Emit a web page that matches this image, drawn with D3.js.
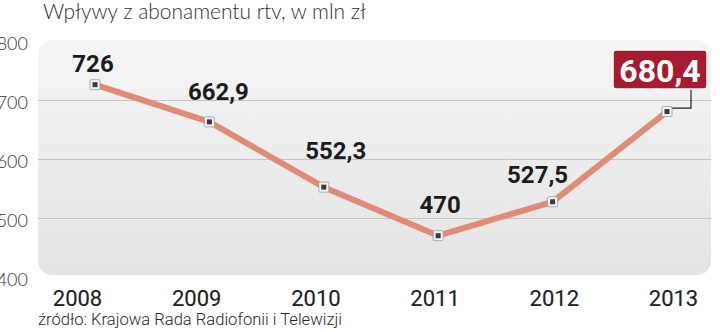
<!DOCTYPE html>
<html><head><meta charset="utf-8">
<script src="https://cdn.jsdelivr.net/npm/d3@7"></script>
<style>
html,body{margin:0;padding:0;background:#fff;}
svg{display:block;}
</style></head>
<body>
<svg id="c" width="720" height="332"></svg>
<script>
const years = ["2008","2009","2010","2011","2012","2013"];
const values = [726, 662.9, 552.3, 470, 527.5, 680.4];
const valueLabels = ["726","662,9","552,3","470","527,5","680,4"];
const yTicks = [400, 500, 600, 700, 800];
const gridTicks = [500, 600, 700];
const title = "Wpływy z abonamentu rtv, w mln zł";
const source = "źródło: Krajowa Rada Radiofonii i Telewizji";

// layout (not data)
const labelOffsets = [[-2,-13],[9,-22],[12,-28],[2,-23],[-15,-19]];

const svg = d3.select("#c");
const defs = svg.append("defs");
const grad = defs.append("linearGradient").attr("id","bg").attr("x1",0).attr("y1",0).attr("x2",0).attr("y2",1);
grad.append("stop").attr("offset","0%").attr("stop-color","#f5f5f5");
grad.append("stop").attr("offset","100%").attr("stop-color","#e4e4e4");

const x = d3.scalePoint().domain(years).range([95, 667]);
const xLab = d3.scalePoint().domain(years).range([77, 673]);
const y = d3.scaleLinear().domain([400, 800]).range([277, 41]);

// panel
svg.append("rect").attr("x",38).attr("y",40).attr("width",673).attr("height",235)
  .attr("rx",14).attr("fill","url(#bg)");

// gridlines
svg.append("g").selectAll("line").data(gridTicks).join("line")
  .attr("x1",38).attr("x2",711).attr("y1",d=>Math.round(y(d))+0.5).attr("y2",d=>Math.round(y(d))+0.5)
  .attr("stroke","#c4c4c4").attr("stroke-width",1);

// title
svg.append("text").attr("x",43).attr("y",19).text(title)
  .attr("font-family","Lato, 'Open Sans', sans-serif").attr("font-weight",300)
  .attr("font-size",21).attr("fill","#333")
  .attr("textLength",323).attr("lengthAdjust","spacingAndGlyphs");

// y axis
const yAxis = d3.axisLeft(y).tickValues(yTicks).tickSize(0).tickPadding(0);
const gy = svg.append("g").attr("transform","translate(28,3)").call(yAxis);
gy.select(".domain").remove();
gy.selectAll("text").attr("font-family","Lato, 'Open Sans', sans-serif").attr("font-weight",300)
  .attr("font-size",18).attr("fill","#333");

// x axis labels
const xAxis = d3.axisBottom(xLab).tickSize(0).tickPadding(0);
const gx = svg.append("g").attr("transform","translate(0,290)").call(xAxis);
gx.select(".domain").remove();
gx.selectAll("text").attr("font-family","Roboto, sans-serif").attr("font-weight",400)
  .attr("font-size",22).attr("fill","#222").attr("stroke","#222").attr("stroke-width",0.15);

// source
svg.append("text").attr("x",38).attr("y",325).text(source)
  .attr("font-family","Roboto, sans-serif").attr("font-weight",300)
  .attr("font-size",17).attr("fill","#2a2a2a")
  .attr("textLength",304).attr("lengthAdjust","spacingAndGlyphs");

// line
const line = d3.line().x((d,i)=>x(years[i])).y(d=>y(d));
svg.append("path").datum(values).attr("d",line).attr("fill","none")
  .attr("stroke","#e08b77").attr("stroke-width",6).attr("stroke-linejoin","round");

// connector for last label
const lastI = values.length-1;
const lx = x(years[lastI]), ly = y(values[lastI]);
svg.append("path").attr("d",`M${lx},${ly-3.5}H${lx+24}V89`).attr("fill","none")
  .attr("stroke","#222").attr("stroke-width",1.2);

// markers
const mk = svg.append("g").selectAll("g").data(values).join("g")
  .attr("transform",(d,i)=>`translate(${x(years[i])},${y(d)})`);
mk.append("rect").attr("x",-5).attr("y",-5).attr("width",10).attr("height",10)
  .attr("fill","#f4f4f4").attr("stroke","#9a9a9a").attr("stroke-width",0.8).attr("rx",1);
mk.append("rect").attr("x",-2.5).attr("y",-2.5).attr("width",5).attr("height",5).attr("fill","#3a3a40");

// value labels (all but last)
svg.append("g").selectAll("text").data(values.slice(0,lastI)).join("text")
  .attr("x",(d,i)=>x(years[i])+labelOffsets[i][0])
  .attr("y",(d,i)=>y(d)+labelOffsets[i][1])
  .attr("text-anchor","middle").text((d,i)=>valueLabels[i])
  .attr("font-family","Roboto, sans-serif").attr("font-weight",700)
  .attr("font-size",24).attr("fill","#1c1c1c");

// highlighted last label
svg.append("rect").attr("x",lx-54).attr("y",50).attr("width",94).attr("height",39).attr("rx",3)
  .attr("fill","#a61b2f").attr("stroke","#ffffff").attr("stroke-width",1.5);
svg.append("text").attr("x",lx-7).attr("y",82).attr("text-anchor","middle")
  .text(valueLabels[lastI])
  .attr("font-family","Roboto, sans-serif").attr("font-weight",700)
  .attr("font-size",32).attr("fill","#fff");
</script>
</body></html>
